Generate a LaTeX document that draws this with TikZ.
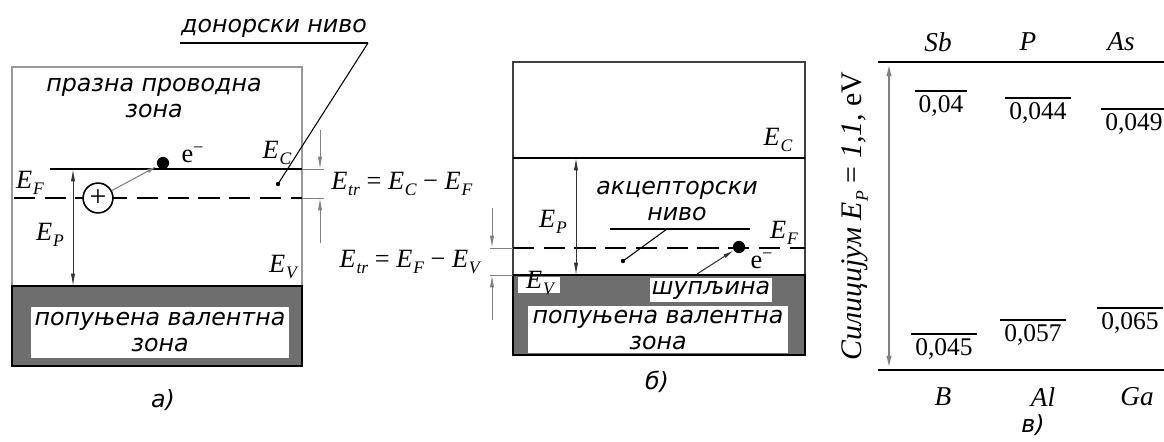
\documentclass[tikz,border=0pt]{standalone}
\usepackage{fontspec}
\setmainfont{Liberation Serif}
\newfontfamily\gost{DejaVu Sans}
\usetikzlibrary{arrows.meta}
\definecolor{band}{rgb}{0.43,0.43,0.43}
\definecolor{rim}{rgb}{0.6,0.6,0.6}
\newcommand{\lvl}[1]{\textit{E\kern.03em\raisebox{-.45ex}{\fontsize{10}{10}\selectfont #1}}}

\tikzset{
  zona/.style={font=\gost\itshape\fontsize{13.5}{15}\selectfont, align=center, inner sep=0pt},
  lab/.style={font=\fontsize{15}{17}\selectfont, inner sep=0pt},
  dimline/.style={draw=gray, line width=0.5pt},
  tipdim/.style={-{Latex[length=7pt,width=2.4pt]}},
  tipboth/.style={{Latex[length=7pt,width=2.4pt]}-{Latex[length=7pt,width=2.4pt]}},
  level/.style={line width=1.6pt},
  fermi/.style={line width=1pt, dash pattern=on 12pt off 5.5pt},
  dot/.style={circle, fill=black, inner sep=0pt, minimum size=6pt},
  val/.style={font=\fontsize{14.5}{16}\selectfont, inner xsep=2pt, inner ysep=2.5pt},
}

\begin{document}
\begin{tikzpicture}[x=0.02cm, y=-0.02cm]
\useasboundingbox (0,0) rectangle (1164,441);

% а) донорски ниво
\draw[rim, line width=0.8pt] (12,67) rectangle (302,366);
\fill[band] (12,286) rectangle (302,366);
\draw[line width=1.2pt] (12,286) rectangle (302,366);
\fill[white] (31,307) rectangle (289,358);
\node[zona] (vala) at (160,332) {попуњена валентна\\зона};
\node[zona] (conda) at (154,98) {празна проводна\\зона};
% нивои E_C и E_F
\draw[level] (50,169) -- (302,169);
\draw[fermi] (14,198) -- (302,198);
\draw[dimline] (302,169) -- (324,169) (302,198) -- (324,198);
\node[lab] (eca) at (277,153) {\lvl{C}};
\node[lab] (efa) at (30,183) {\lvl{F}};
\node[lab] (eva) at (283,267) {\lvl{V}};
% E_P
\coordinate (pa1) at (73,169);
\coordinate (pa2) at (73,286);
\draw[dimline, draw=black!80, tipboth] (pa1) -- (pa2);
\node[lab] (epa) at (50,235) {\lvl{P}};
% јон и електрон
\node[circle, draw, line width=0.9pt, fill=white, minimum size=17pt, inner sep=0pt,
  font=\fontsize{17}{17}\selectfont] (iona) at (98,198) {+};
\node[dot, minimum size=7pt] (ela) at (163,163) {};
\draw[gray, line width=0.6pt, -{Latex[length=6pt,width=2.4pt]}] (iona) -- (ela);
\node[lab] (ea) at (193,155) {e\textsuperscript{−}};
% донорски ниво
\coordinate (dona) at (278,184);
\coordinate (donb) at (368,43);
\node[zona, anchor=south] (don) at (274,38) {донорски ниво};
\draw[level] (180,43) -- (donb);
\draw[line width=0.6pt] (dona) -- (donb);
\fill (dona) circle (2.2);
% E_tr = E_C - E_F
\coordinate (da1) at (320,130);
\coordinate (da2) at (320,169);
\coordinate (da3) at (320,198);
\coordinate (da4) at (320,243);
\draw[dimline, tipdim] (da1) -- (da2);
\draw[dimline, tipdim] (da4) -- (da3);
\node[lab, anchor=west] (etra) at (331,184) {\lvl{tr} = \lvl{C} − \lvl{F}};
\node[zona] (la) at (163,400) {а)};

% б) акцепторски ниво
\draw[black!75, line width=0.8pt] (513,62) rectangle (805,355);
\draw[line width=0.9pt] (513,158) -- (805,158);
\fill[band] (513,275) rectangle (805,355);
\draw[line width=1.2pt] (513,275) rectangle (805,355);
\fill[white] (528,306) rectangle (788,353);
\fill[white] (650,278) rectangle (772,302);
\fill[white] (518,277) rectangle (560,293);
\node[zona] (valb) at (658,330) {попуњена валентна\\зона};
\node[zona] (hole) at (711,290) {шупљина};
\node[lab] (evb) at (540,283) {\lvl{V}};
\node[lab] (ecb) at (778,140) {\lvl{C}};
% акцепторски ниво
\draw[level] (610,229) -- (750,229);
\node[zona] (acc) at (677,201) {акцепторски\\ниво};
\coordinate (acca) at (667,229);
\coordinate (accb) at (623,261);
\draw[line width=0.6pt] (acca) -- (accb);
\fill (accb) circle (2.2);
% E_F
\draw[fermi] (513,248) -- (805,248);
\draw[dimline] (490,248) -- (513,248) (490,275) -- (513,275);
\node[lab] (efb) at (784,233) {\lvl{F}};
\node[dot, minimum size=7pt] (elb) at (739,247) {};
\coordinate (holb) at (697,274);
\draw[black!80, line width=0.6pt, -{Latex[length=6pt,width=2.4pt]}] (holb) -- (elb);
\node[lab] (eb) at (762,261) {e\textsuperscript{−}};
% E_P
\coordinate (pb1) at (576,158);
\coordinate (pb2) at (576,275);
\draw[dimline, draw=black!80, tipboth] (pb1) -- (pb2);
\node[lab] (epb) at (553,222) {\lvl{P}};
% E_tr = E_F - E_V
\coordinate (db1) at (492,208);
\coordinate (db2) at (492,248);
\coordinate (db3) at (492,275);
\coordinate (db4) at (492,320);
\draw[dimline, tipdim] (db1) -- (db2);
\draw[dimline, tipdim] (db4) -- (db3);
\node[lab, anchor=east] (etrb) at (480,262) {\lvl{tr} = \lvl{F} − \lvl{V}};
\node[zona] (lb) at (657,382) {б)};

% в) енергије примеса
\coordinate (top) at (878,62);
\coordinate (bot) at (878,370);
\draw[line width=1.4pt] (top) -- (1164,62);
\draw[line width=1.4pt] (bot) -- (1164,370);
\draw[gray, line width=1.2pt, {Latex[length=8pt,width=3pt]}-{Latex[length=8pt,width=3pt]}] (889,62) -- (889,370);
\node[lab, rotate=90, font=\fontsize{17}{19}\selectfont] (si) at (855,216) {\textit{Силицијум} \lvl{P} = \textit{1,1,} eV};
\foreach \nm/\x/\t in {sb/938/Sb, p/1028/P, as/1121/As}
  \node[lab, font=\itshape\fontsize{15.5}{17}\selectfont] (\nm) at (\x,42) {\t};
\foreach \nm/\x/\t in {b/943/B, al/1043/Al, ga/1137/Ga}
  \node[lab, font=\itshape\fontsize{15.5}{17}\selectfont] (\nm) at (\x,397) {\t};
\foreach \nm/\x/\y/\v in {vsb/941/106/{0,04}, vp/1038/113/{0,044}, vas/1134/124/{0,049},
    vb/944/349/{0,045}, val/1033/335/{0,057}, vga/1130/323/{0,065}}{
  \node[val] (\nm) at (\x,\y) {\v};
  \draw[line width=0.8pt] (\nm.north west) -- (\nm.north east);
}
\node[zona] (lc) at (1033,425) {в)};
\end{tikzpicture}
\end{document}
